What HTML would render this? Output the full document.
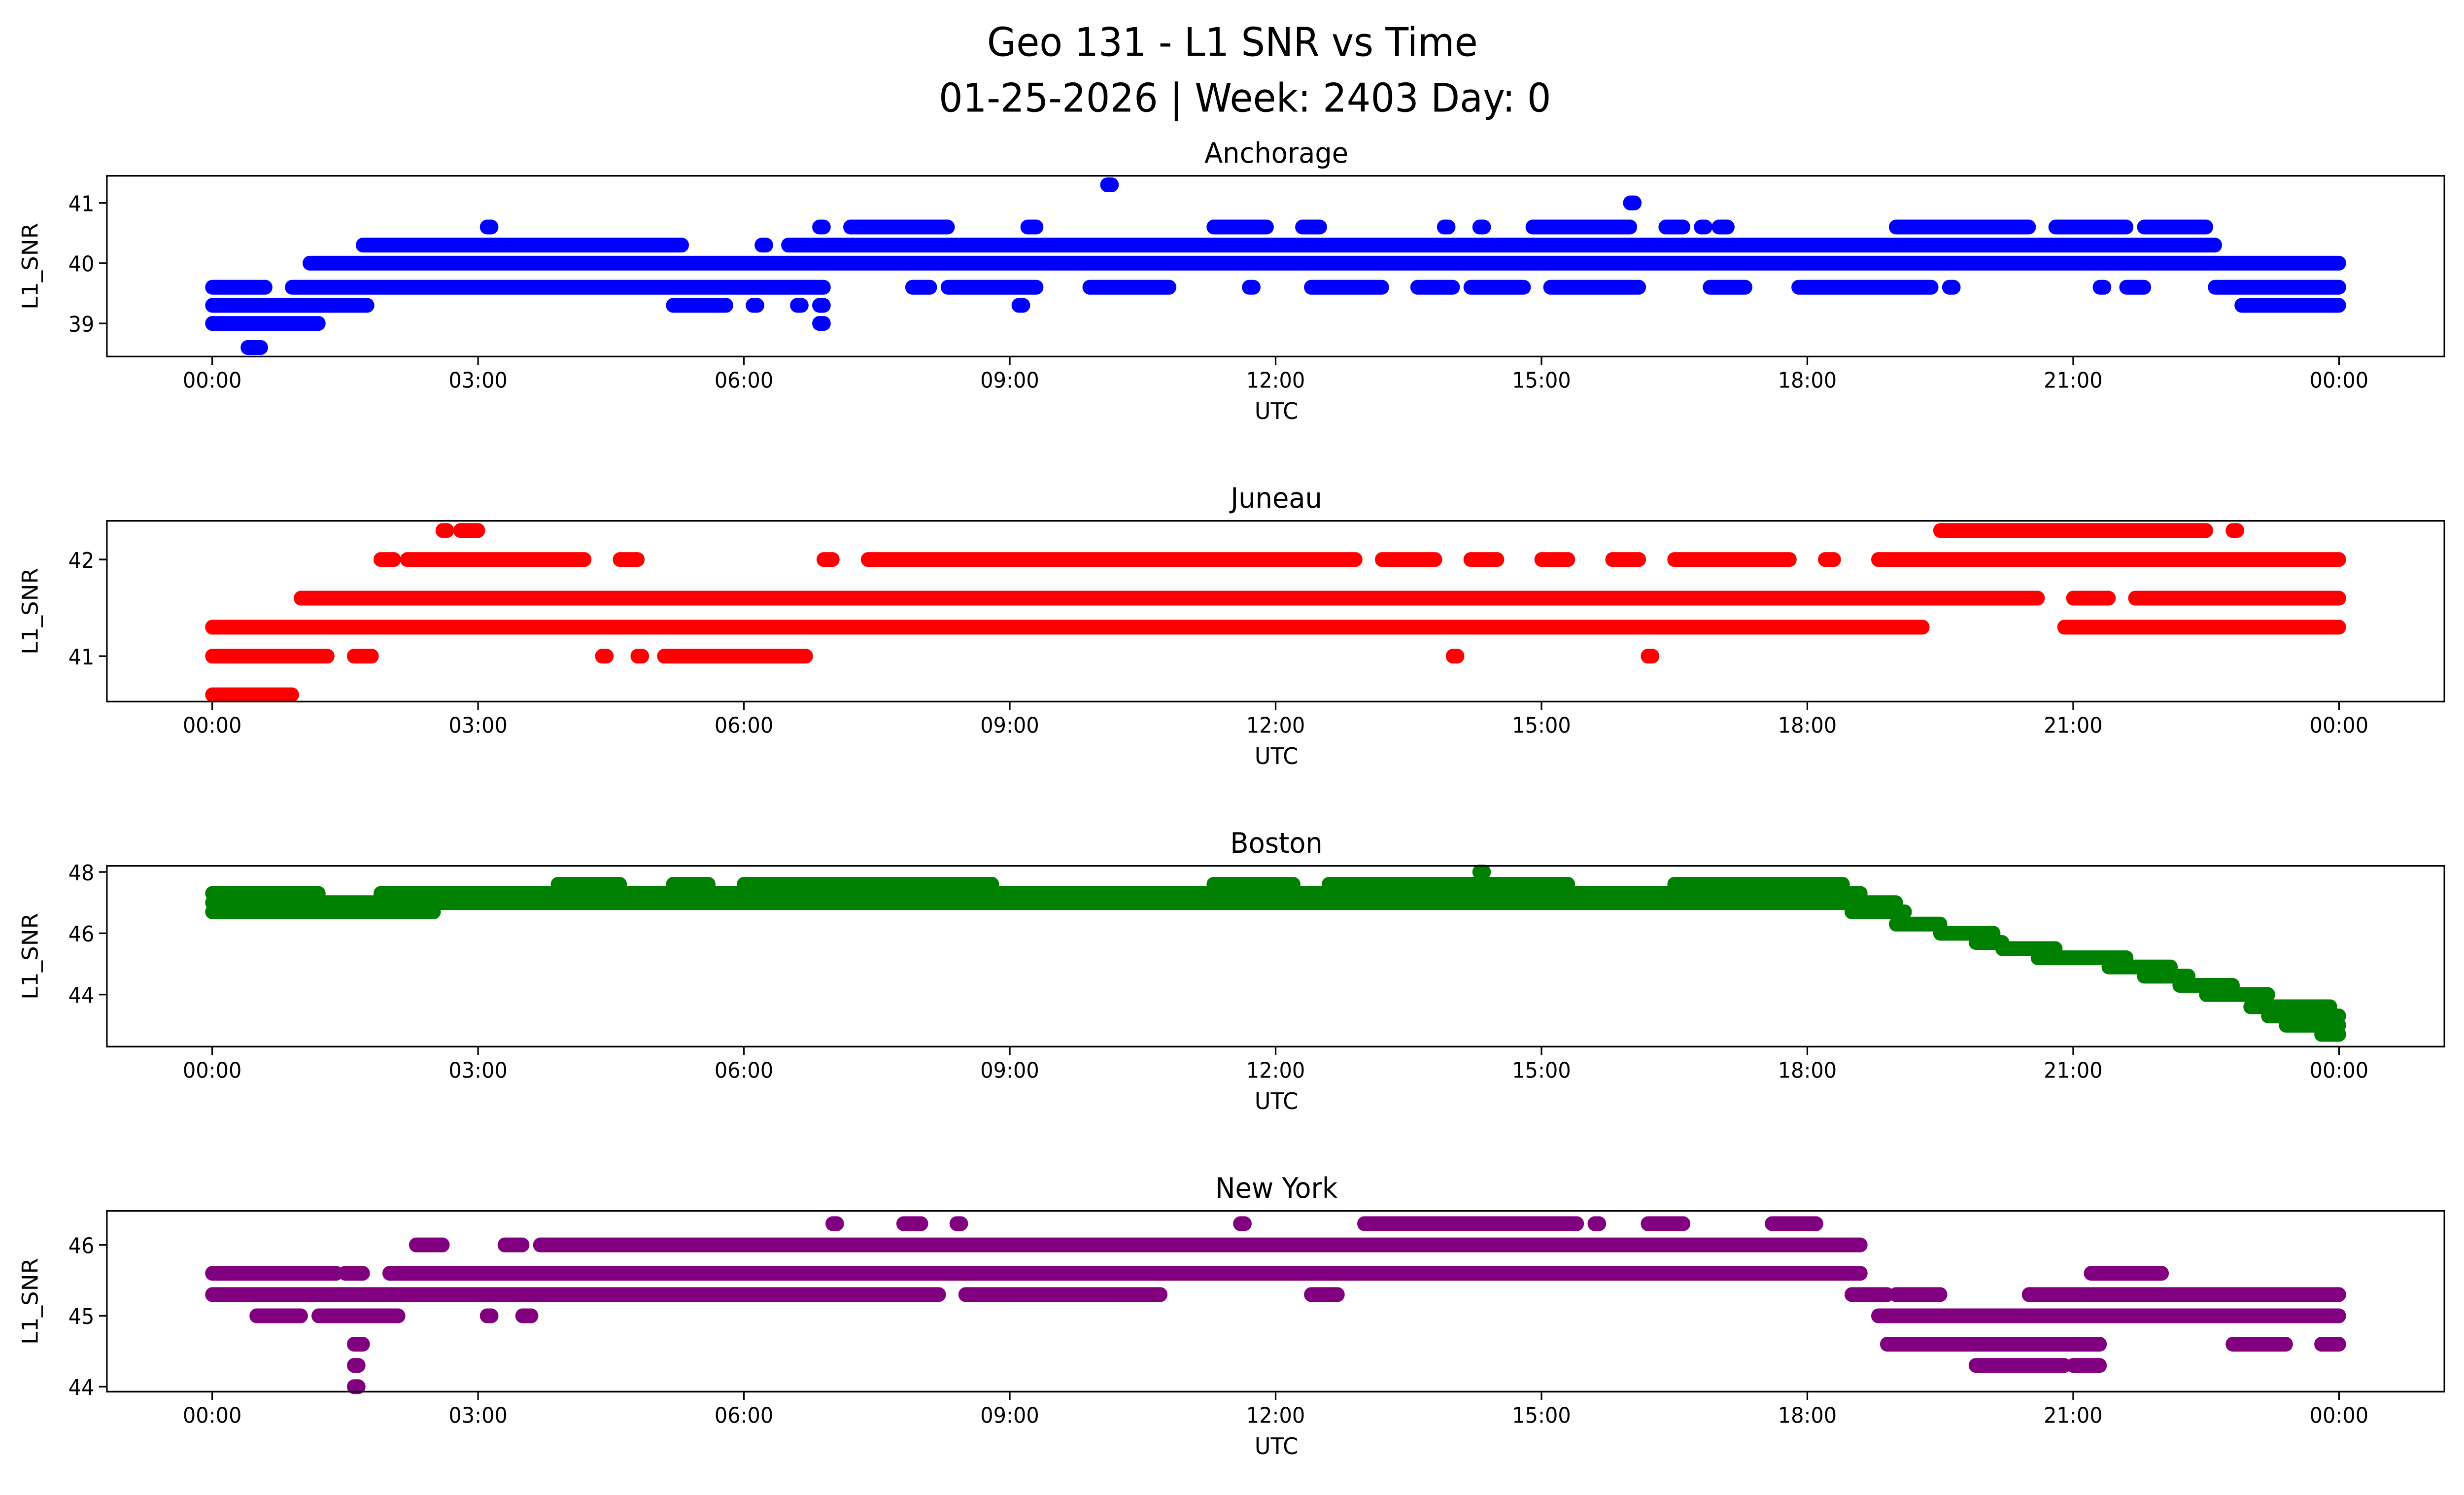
<!DOCTYPE html>
<html><head><meta charset="utf-8">
<style>html,body{margin:0;padding:0;background:#fff;overflow:hidden;width:100%;height:100%}svg{display:block;width:100vw;height:100vh}text{font-family:"DejaVu Sans","Liberation Sans",sans-serif}</style>
</head><body>
<svg id="fig" viewBox="0 0 1567.5 909.9" preserveAspectRatio="none" xmlns="http://www.w3.org/2000/svg">
<rect width="1567.5" height="909.9" fill="#fff"/>
<text x="784" y="34" font-size="24" text-anchor="middle">Geo 131 - L1 SNR vs Time</text>
<text x="792" y="68" font-size="24" text-anchor="middle">01-25-2026 | Week: 2403 Day: 0</text>
</svg>
<script>
// x ticks (hours)
const xTickHours = [0,3,6,9,12,15,18,21,24];
const xTickLabels = ["00:00","03:00","06:00","09:00","12:00","15:00","18:00","21:00","00:00"];
// Station names and colours
const stations = ["Anchorage","Juneau","Boston","New York"];
const colors = ["blue","red","green","purple"];
// y ticks per station
const yTicksAnchorage = [39,40,41];
const yTicksJuneau = [41,42];
const yTicksBoston = [44,46,48];
const yTicksNewYork = [44,45,46];
// y domains [min,max]
const yDomAnchorage = [38.45,41.45];
const yDomJuneau = [40.53,42.4];
const yDomBoston = [42.3,48.2];
const yDomNewYork = [43.93,46.48];
// data runs: [startHour, endHour, SNR]
const runsAnchorage = [
[0,0.6,39.6],[0.9,6.9,39.6],[7.9,8.1,39.6],[8.3,9.3,39.6],[9.9,10.8,39.6],[11.7,11.75,39.6],[12.4,13.2,39.6],[13.6,14,39.6],[14.2,14.8,39.6],[15.1,16.1,39.6],[16.9,17.3,39.6],[17.9,19.4,39.6],[19.6,19.65,39.6],[21.3,21.35,39.6],[21.6,21.8,39.6],[22.6,24,39.6],
[0,1.75,39.3],[5.2,5.8,39.3],[6.1,6.15,39.3],[6.6,6.65,39.3],[6.85,6.9,39.3],[9.1,9.15,39.3],[22.9,24,39.3],
[0,1.2,39.0],[6.85,6.9,39.0],[0.4,0.55,38.6],
[1.1,24,40.0],
[1.7,5.3,40.3],[6.2,6.25,40.3],[6.5,22.6,40.3],
[3.1,3.15,40.6],[6.85,6.9,40.6],[7.2,8.3,40.6],[9.2,9.3,40.6],[11.3,11.9,40.6],[12.3,12.5,40.6],[13.9,13.95,40.6],[14.3,14.35,40.6],[14.9,16,40.6],[16.4,16.6,40.6],[16.8,16.85,40.6],[17,17.1,40.6],[19,20.5,40.6],[20.8,21.6,40.6],[21.8,22.5,40.6],
[16,16.05,41.0],[10.1,10.15,41.3]];
const runsJuneau = [
[0,19.3,41.3],[20.9,24,41.3],
[0,1.3,41.0],[1.6,1.8,41.0],[4.4,4.45,41.0],[4.8,4.85,41.0],[5.1,6.7,41.0],[14,14.05,41.0],[16.2,16.25,41.0],
[0,0.9,40.6],
[1.0,20.6,41.6],[21.0,21.4,41.6],[21.7,24,41.6],
[1.9,2.05,42.0],[2.2,4.2,42.0],[4.6,4.8,42.0],[6.9,7.0,42.0],[7.4,12.9,42.0],[13.2,13.8,42.0],[14.2,14.5,42.0],[15.0,15.3,42.0],[15.8,16.1,42.0],[16.5,17.8,42.0],[18.2,18.3,42.0],[18.8,24,42.0],
[2.6,2.65,42.3],[2.8,3.0,42.3],[19.5,22.5,42.3],[22.8,22.85,42.3]];
const runsBoston = [
[0,1.2,47.3],[1.9,18.6,47.3],[0,19.0,47.0],[0,2.5,46.7],[18.5,19.1,46.7],
[3.9,4.6,47.6],[5.2,5.6,47.6],[6.0,8.8,47.6],[11.3,12.2,47.6],[12.6,15.3,47.6],[16.5,18.4,47.6],[14.3,14.35,48.0],
[19.0,19.5,46.3],[19.5,20.1,46.0],[19.9,20.2,45.7],[20.2,20.8,45.5],[20.6,21.6,45.2],[21.4,22.1,44.9],[21.8,22.3,44.6],[22.2,22.8,44.3],[22.5,23.2,44.0],[23.0,23.9,43.6],[23.2,24,43.3],[23.4,24,43.0],[23.8,24,42.7]];
const runsNewYork = [
[0,1.4,45.6],[1.5,1.7,45.6],[2.0,18.6,45.6],[21.2,22.0,45.6],
[0,8.2,45.3],[8.5,10.7,45.3],[12.4,12.7,45.3],[18.5,18.9,45.3],[19,19.5,45.3],[20.5,24,45.3],
[0.5,1.0,45.0],[1.2,2.1,45.0],[3.1,3.15,45.0],[3.5,3.6,45.0],[18.8,24,45.0],
[1.6,1.7,44.6],[18.9,21.3,44.6],[22.8,23.4,44.6],[23.8,24,44.6],
[1.6,1.65,44.3],[19.9,20.9,44.3],[21.0,21.3,44.3],[1.6,1.65,44.0],
[2.3,2.6,46.0],[3.3,3.5,46.0],[3.7,18.6,46.0],
[7.0,7.05,46.3],[7.8,8.0,46.3],[8.4,8.45,46.3],[11.6,11.65,46.3],[13.0,15.4,46.3],[15.6,15.65,46.3],[16.2,16.6,46.3],[17.6,18.1,46.3]];

const NS="http://www.w3.org/2000/svg";
const svg=document.getElementById('fig');
const L=68,R=1555;
const tops=[107,317,527,737],H=110;
const allRuns=[runsAnchorage,runsJuneau,runsBoston,runsNewYork];
const allTicks=[yTicksAnchorage,yTicksJuneau,yTicksBoston,yTicksNewYork];
const allDom=[yDomAnchorage,yDomJuneau,yDomBoston,yDomNewYork];
function xs(h){return 135+h*(1488-135)/24;}
for(let p=0;p<4;p++){
  const T=tops[p],B=T+H,dom=allDom[p];
  const ys=v=>B-(v-dom[0])/(dom[1]-dom[0])*H;
  const g=document.createElementNS(NS,'g');
  
  
  svg.appendChild(g);
  const add=(tag,attrs,name)=>{const e=document.createElementNS(NS,tag);for(const k in attrs)e.setAttribute(k,attrs[k]);
    
    
    g.appendChild(e);return e;};
  const t=add('text',{x:812,y:T-8,'font-size':17,'text-anchor':'middle'},'panel-title');t.textContent=stations[p];
  allRuns[p].forEach(r=>{
    add('line',{x1:xs(r[0]),x2:xs(r[1]),y1:ys(r[2]),y2:ys(r[2]),stroke:colors[p],'stroke-width':9,'stroke-linecap':'round'},'data-run');
  });
  add('rect',{x:L,y:T,width:R-L,height:H,fill:'none',stroke:'#000','stroke-width':1},'plot-frame');
  xTickHours.forEach((h,i)=>{
    add('line',{x1:xs(h),x2:xs(h),y1:B,y2:B+5,stroke:'#000','stroke-width':1},'x-tick');
    const tx=add('text',{x:xs(h),y:B+19,'font-size':13,'text-anchor':'middle'},'x-tick-label');tx.textContent=xTickLabels[i];
  });
  allTicks[p].forEach(v=>{
    add('line',{x1:L-5,x2:L,y1:ys(v),y2:ys(v),stroke:'#000','stroke-width':1},'y-tick');
    const ty=add('text',{x:L-8,y:ys(v)+5,'font-size':13,'text-anchor':'end'},'y-tick-label');ty.textContent=v;
  });
  const xl=add('text',{x:812,y:B+38,'font-size':14,'text-anchor':'middle'},'x-axis-title');xl.textContent='UTC';
  const yl=add('text',{x:0,y:0,'font-size':14,'text-anchor':'middle',transform:`translate(24,${T+H/2}) rotate(-90)`},'y-axis-title');yl.textContent='L1_SNR';
}
</script>
</body></html>
